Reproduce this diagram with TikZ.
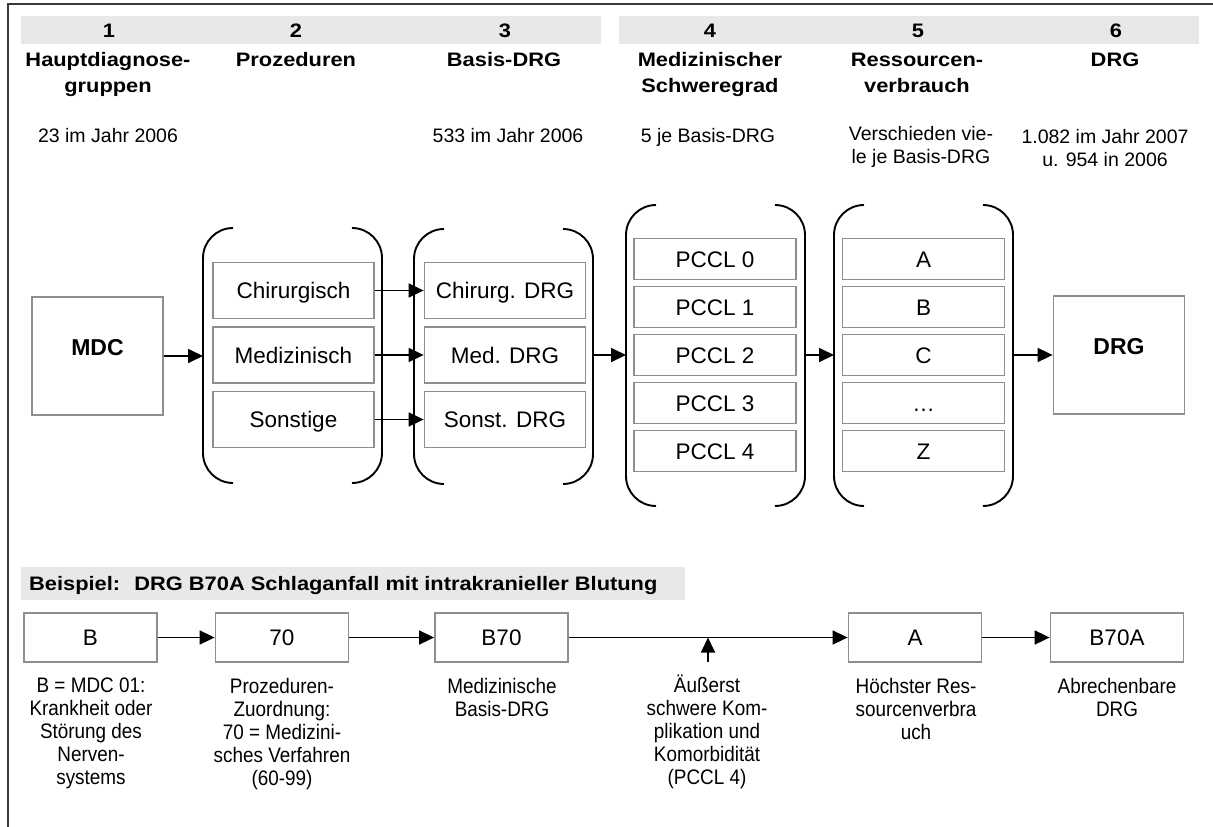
\documentclass[tikz,border=0pt]{standalone}
\usepackage{fontspec}
\setmainfont{Liberation Sans}
\newfontfamily\hdfont{Liberation Sans}[FakeStretch=1.12]
\newfontfamily\cpfont{Liberation Sans}[FakeStretch=0.9]
\usetikzlibrary{arrows.meta}
\definecolor{bandgray}{HTML}{E8E8E8}
\definecolor{boxgray}{HTML}{8E8E8E}
\definecolor{framegray}{HTML}{3A3A3A}
\tikzset{
  hd/.style={font=\hdfont\bfseries\fontsize{19.5}{26}\selectfont, inner sep=0pt, align=center, anchor=north},
  num/.style={font=\hdfont\bfseries\fontsize{19.5}{26}\selectfont, inner sep=0pt, anchor=base},
  sub/.style={font=\fontsize{19.5}{23}\selectfont, inner sep=0pt, align=center},
  captxt/.style={font=\cpfont\fontsize{21}{23}\selectfont, inner sep=0pt, align=center, anchor=north},
  band/.style={fill=bandgray, draw=none},
  gbox/.style={draw=boxgray, line width=1.8pt, fill=white, inner sep=0pt,
    font=\fontsize{22.5}{26}\selectfont, text height=16pt, text depth=0pt},
  bigbox/.style={gbox, minimum width=131pt, minimum height=118pt},
  midbox/.style={gbox, minimum width=161pt, minimum height=56pt},
  smallbox/.style={gbox, minimum width=162pt, minimum height=41pt},
  exbox/.style={gbox, minimum width=133pt, minimum height=49pt},
  bigtxt/.style={font=\bfseries\fontsize{23}{26}\selectfont, inner sep=0pt, anchor=base},
  paren/.style={line width=1.9pt, rounded corners=30pt},
  arr/.style={-{Triangle[length=15pt,width=14pt]}, line width=1.7pt},
}
\newcommand\parpair[4]{%
  \draw[paren] ({#1+30},#3) -- (#1,#3) -- (#1,#4) -- ({#1+30},#4);
  \draw[paren] ({#2-30},#3) -- (#2,#3) -- (#2,#4) -- ({#2-30},#4);
}
\begin{document}
\begin{tikzpicture}[x=1pt,y=-1pt]
\useasboundingbox (0,0) rectangle (1213,827);
% frame
\draw[framegray, line width=2pt] (8,827) -- (8,4) -- (1213,4);
% header bands
\fill[band] (21,16) rectangle (601,44);
\fill[band] (619,16) rectangle (1199,44);
% numbers
\node[num] (n1) at (109,37) {1};
\node[num] (n2) at (296,37) {2};
\node[num] (n3) at (505,37) {3};
\node[num] (n4) at (710,37) {4};
\node[num] (n5) at (918,37) {5};
\node[num] (n6) at (1116,37) {6};
% headings
\node[hd] (h1) at (108,52.5) {Hauptdiagnose-\\gruppen};
\node[hd] (h2) at (296,52.5) {Prozeduren};
\node[hd] (h3) at (504,52.5) {Basis-DRG};
\node[hd] (h4) at (710,52.5) {Medizinischer\\Schweregrad};
\node[hd] (h5) at (917,52.5) {Ressourcen-\\verbrauch};
\node[hd] (h6) at (1115,52.5) {DRG};
% sub captions
\node[sub, anchor=base] (s1) at (108,142) {23 im Jahr 2006};
\node[sub, anchor=base] (s3) at (508,142.5) {533 im Jahr 2006};
\node[sub, anchor=base] (s4) at (708,142.5) {5 je Basis-DRG};
\node[sub, anchor=north] (s5) at (921,126) {Verschieden vie-\\le je Basis-DRG};
\node[sub, anchor=north] (s6) at (1105,129) {1.082 im Jahr 2007\\u. 954 in 2006};
% brackets
\parpair{203}{382}{228}{483}
\parpair{414}{593}{229}{484}
\parpair{626}{805}{205}{506}
\parpair{834}{1013}{205}{506}
\coordinate (g2l) at (203,355);
\coordinate (g3r) at (593,355);
\coordinate (g4l) at (626,355);
\coordinate (g4r) at (805,355);
\coordinate (g5l) at (834,355);
\coordinate (g5r) at (1013,355);
% MDC
\node[bigbox] (mdc) at (97.5,356) {};
\node[bigtxt] (mdctxt) at (97.5,355) {MDC};
% group 2
\node[midbox] (chir) at (293.5,290.5) {Chirurgisch};
\node[midbox] (med) at (293.5,355) {Medizinisch};
\node[midbox] (sonst) at (293.5,419.5) {Sonstige};
% group 3
\node[midbox] (chirdrg) at (505,290.5) {Chirurg. DRG};
\node[midbox] (meddrg) at (505,355) {Med. DRG};
\node[midbox] (sonstdrg) at (505,419.5) {Sonst. DRG};
% group 4
\node[smallbox] (p0) at (715,259) {PCCL 0};
\node[smallbox] (p1) at (715,307) {PCCL 1};
\node[smallbox] (p2) at (715,355) {PCCL 2};
\node[smallbox] (p3) at (715,403) {PCCL 3};
\node[smallbox] (p4) at (715,451) {PCCL 4};
% group 5
\node[smallbox] (ra) at (923.5,259) {A};
\node[smallbox] (rb) at (923.5,307) {B};
\node[smallbox] (rc) at (923.5,355) {C};
\node[smallbox] (rd) at (923.5,403) {…};
\node[smallbox] (rz) at (923.5,451) {Z};
% DRG
\node[bigbox] (drg) at (1119,355) {};
\node[bigtxt] (drgtxt) at (1119,354) {DRG};
% top arrows
\draw[arr] (mdc.east) -- (mdc.east -| g2l);
\draw[arr] (chir.east) -- (chirdrg.west);
\draw[arr] (med.east) -- (meddrg.west);
\draw[arr] (sonst.east) -- (sonstdrg.west);
\draw[arr] (g3r) -- (g4l);
\draw[arr] (g4r) -- (g5l);
\draw[arr] (g5r) -- (g5r -| drg.west);
% example band
\fill[band] (21,567) rectangle (685,600);
\node[num, anchor=base west] (bsp) at (29,590) {Beispiel:~ DRG B70A Schlaganfall mit intrakranieller Blutung};
% example boxes
\node[exbox] (eb) at (90.5,637.5) {B};
\node[exbox] (e70) at (282,637.5) {70};
\node[exbox] (eb70) at (501.5,637.5) {B70};
\node[exbox] (ea) at (915,637.5) {A};
\node[exbox] (eb70a) at (1117,637.5) {B70A};
\draw[arr] (eb.east) -- (e70.west);
\draw[arr] (e70.east) -- (eb70.west);
\draw[arr] (eb70.east) -- (ea.west);
\draw[arr] (ea.east) -- (eb70a.west);
\coordinate (upbase) at (708,662);
\draw[arr] (upbase) -- (upbase |- eb70.east);
% captions
\node[captxt] (cb) at (91,677.7) {B = MDC 01:\\Krankheit oder\\Störung des\\Nerven-\\systems};
\node[captxt] (c70) at (282,677.7) {Prozeduren-\\Zuordnung:\\70 = Medizini-\\sches Verfahren\\(60-99)};
\node[captxt] (cb70) at (502,677.7) {Medizinische\\Basis-DRG};
\node[captxt] (cpccl) at (707,674.5) {Äußerst\\schwere Kom-\\plikation und\\Komorbidität\\(PCCL 4)};
\node[captxt] (ca) at (916,677.7) {Höchster Res-\\sourcenverbra\\uch};
\node[captxt] (cb70a) at (1117,677.7) {Abrechenbare\\DRG};
\end{tikzpicture}
\end{document}
